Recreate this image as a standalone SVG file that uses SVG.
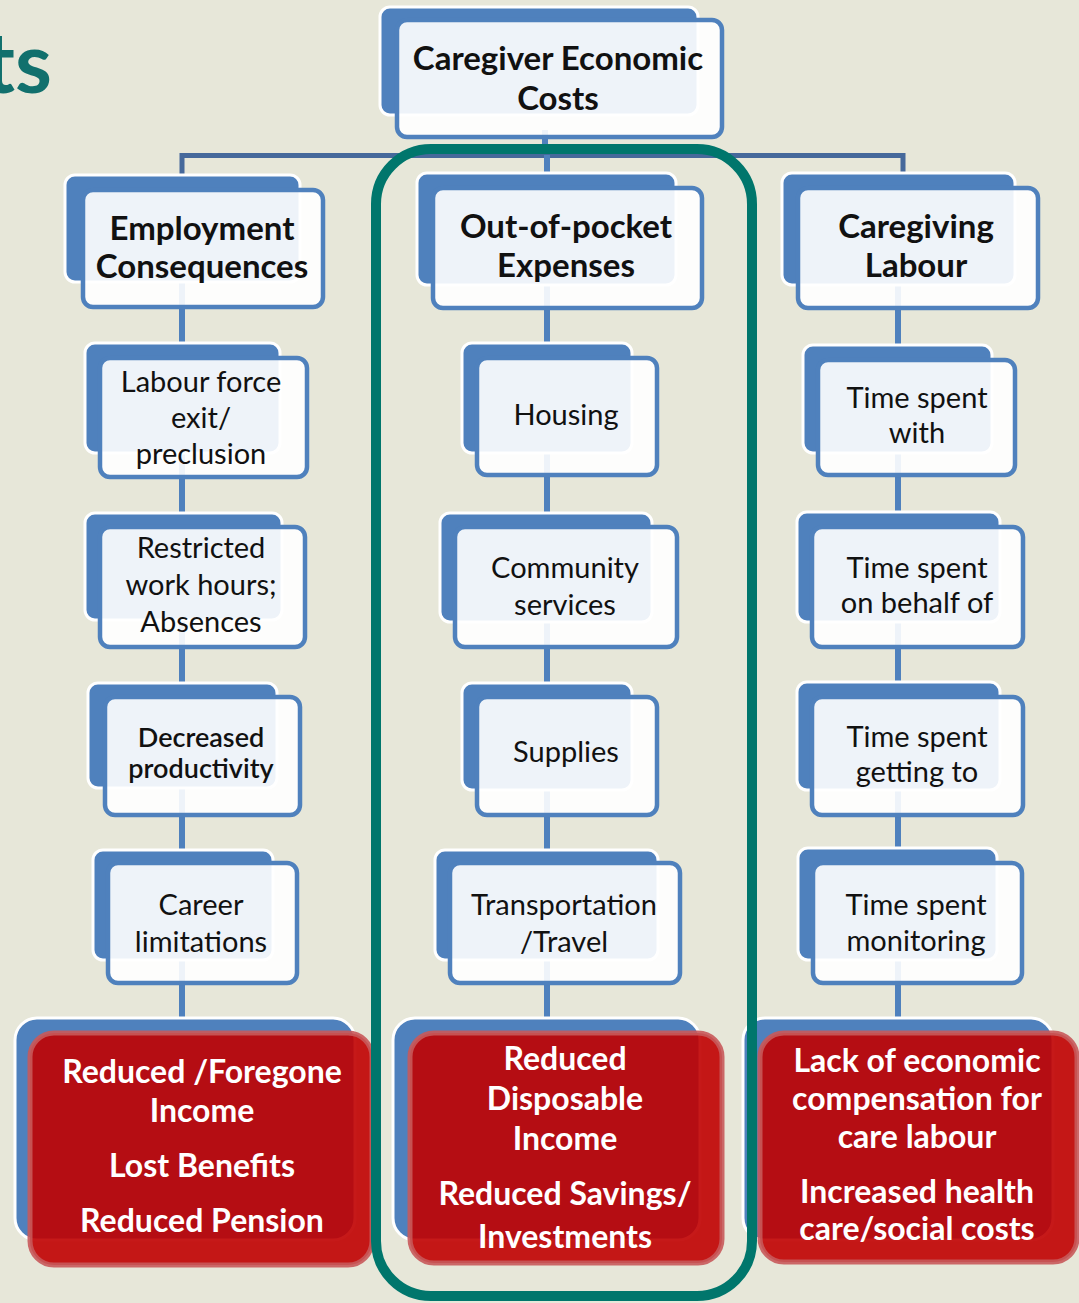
<svg xmlns="http://www.w3.org/2000/svg" width="1079" height="1303" viewBox="0 0 1079 1303">
<defs>
<style>
.bk{fill:#4F81BD;stroke:#fff;stroke-width:3}
.fr{fill:#fff;fill-opacity:0.9;stroke:#4F81BD;stroke-width:4.5}
.rd{fill:#C00000;fill-opacity:0.9;stroke:#C8595A;stroke-opacity:0.9;stroke-width:5}
.t{font-family:Lato,"Liberation Sans",sans-serif;text-anchor:middle;fill:#111}
.h{font-size:33px;font-weight:bold}
.s{font-size:29px}
.d{font-size:27px;font-weight:600}
.r{font-size:32px;font-weight:bold;fill:#fff}
.cv{stroke:#4F81BD;stroke-width:6;fill:none}
.ch{stroke:#46699B;stroke-width:5;fill:none}
</style>
</defs>
<rect width="1079" height="1303" fill="#E7E7D9"/>
<text x="52" y="93" style="font-family:Lato,'Liberation Sans',sans-serif;font-size:84px;font-weight:bold;fill:#11706D;text-anchor:end">ts</text>

<g id="connectors">
<line class="cv" x1="545" y1="130" x2="545" y2="157"/>
<polyline class="ch" points="182,175 182,155.5 903,155.5 903,175"/>
<line class="cv" x1="547" y1="155" x2="547" y2="180"/>
<line class="cv" x1="182" y1="280" x2="182" y2="1025"/>
<line class="cv" x1="547" y1="280" x2="547" y2="1025"/>
<line class="cv" x1="898" y1="280" x2="898" y2="1025"/>
</g>

<g id="n-top">
<rect class="bk" x="380" y="7" width="318" height="108" rx="10"/>
<rect class="fr" x="397" y="20" width="325" height="117" rx="10"/>
<text class="t h" x="558" y="70"><tspan x="558">Caregiver Economic</tspan><tspan x="558" y="110">Costs</tspan></text>
</g>

<g id="n-emp">
<rect class="bk" x="65" y="175" width="235" height="107" rx="10"/>
<rect class="fr" x="83" y="190" width="240" height="117" rx="10"/>
<text class="t h" x="202" y="240"><tspan x="202">Employment</tspan><tspan x="202" y="278">Consequences</tspan></text>
</g>
<g id="n-oop">
<rect class="bk" x="417" y="173" width="259" height="112" rx="10"/>
<rect class="fr" x="433" y="188" width="269" height="120" rx="10"/>
<text class="t h" x="566" y="238"><tspan x="566">Out-of-pocket</tspan><tspan x="566" y="277">Expenses</tspan></text>
</g>
<g id="n-cgl">
<rect class="bk" x="782" y="173" width="233" height="112" rx="10"/>
<rect class="fr" x="798" y="188" width="240" height="120" rx="10"/>
<text class="t h" x="916" y="238"><tspan x="916">Caregiving</tspan><tspan x="916" y="277">Labour</tspan></text>
</g>

<g id="n-labour">
<rect class="bk" x="85" y="343" width="195" height="110" rx="10"/>
<rect class="fr" x="100" y="358" width="207" height="119" rx="10"/>
<text class="t s" x="201" y="392"><tspan x="201">Labour force</tspan><tspan x="201" y="428">exit/</tspan><tspan x="201" y="464">preclusion</tspan></text>
</g>
<g id="n-restricted">
<rect class="bk" x="85" y="513" width="197" height="107" rx="10"/>
<rect class="fr" x="100" y="527" width="205" height="120" rx="10"/>
<text class="t s" x="201" y="558"><tspan x="201">Restricted</tspan><tspan x="201" y="595">work hours;</tspan><tspan x="201" y="632">Absences</tspan></text>
</g>
<g id="n-decreased">
<rect class="bk" x="88" y="683" width="189" height="105" rx="10"/>
<rect class="fr" x="105" y="697" width="195" height="118" rx="10"/>
<text class="t d" x="201" y="747"><tspan x="201">Decreased</tspan><tspan x="201" y="778">productivity</tspan></text>
</g>
<g id="n-career">
<rect class="bk" x="93" y="850" width="180" height="110" rx="10"/>
<rect class="fr" x="108" y="863" width="189" height="120" rx="10"/>
<text class="t s" x="201" y="915"><tspan x="201">Career</tspan><tspan x="201" y="952">limitations</tspan></text>
</g>

<g id="n-housing">
<rect class="bk" x="462" y="343" width="170" height="110" rx="10"/>
<rect class="fr" x="477" y="358" width="180" height="117" rx="10"/>
<text class="t s" x="566" y="425">Housing</text>
</g>
<g id="n-community">
<rect class="bk" x="440" y="513" width="212" height="109" rx="10"/>
<rect class="fr" x="455" y="527" width="222" height="120" rx="10"/>
<text class="t s" x="565" y="578"><tspan x="565">Community</tspan><tspan x="565" y="615">services</tspan></text>
</g>
<g id="n-supplies">
<rect class="bk" x="462" y="683" width="170" height="107" rx="10"/>
<rect class="fr" x="477" y="697" width="180" height="118" rx="10"/>
<text class="t s" x="566" y="762">Supplies</text>
</g>
<g id="n-transport">
<rect class="bk" x="435" y="850" width="223" height="110" rx="10"/>
<rect class="fr" x="450" y="863" width="230" height="120" rx="10"/>
<text class="t s" x="564" y="915"><tspan x="564">Transportation</tspan><tspan x="564" y="952">/Travel</tspan></text>
</g>

<g id="n-with">
<rect class="bk" x="803" y="345" width="189" height="108" rx="10"/>
<rect class="fr" x="818" y="360" width="197" height="115" rx="10"/>
<text class="t s" x="917" y="408"><tspan x="917">Time spent</tspan><tspan x="917" y="443">with</tspan></text>
</g>
<g id="n-behalf">
<rect class="bk" x="797" y="512" width="203" height="110" rx="10"/>
<rect class="fr" x="812" y="527" width="211" height="120" rx="10"/>
<text class="t s" x="917" y="578"><tspan x="917">Time spent</tspan><tspan x="917" y="613">on behalf of</tspan></text>
</g>
<g id="n-getting">
<rect class="bk" x="797" y="682" width="203" height="108" rx="10"/>
<rect class="fr" x="812" y="697" width="211" height="118" rx="10"/>
<text class="t s" x="917" y="747"><tspan x="917">Time spent</tspan><tspan x="917" y="782">getting to</tspan></text>
</g>
<g id="n-monitoring">
<rect class="bk" x="798" y="848" width="199" height="112" rx="10"/>
<rect class="fr" x="813" y="863" width="209" height="120" rx="10"/>
<text class="t s" x="916" y="915"><tspan x="916">Time spent</tspan><tspan x="916" y="951">monitoring</tspan></text>
</g>

<g id="n-red-left">
<rect class="bk" x="15" y="1018" width="340" height="222" rx="22"/>
<rect class="rd" x="30" y="1033" width="342" height="232" rx="24"/>
<text class="t r" x="202" y="1083"><tspan x="202">Reduced /Foregone</tspan><tspan x="202" y="1122">Income</tspan><tspan x="202" y="1177">Lost Benefits</tspan><tspan x="202" y="1232">Reduced Pension</tspan></text>
</g>
<g id="n-red-center">
<rect class="bk" x="393" y="1018" width="307" height="222" rx="22"/>
<rect class="rd" x="410" y="1033" width="312" height="230" rx="24"/>
<text class="t r" x="565" y="1070"><tspan x="565">Reduced</tspan><tspan x="565" y="1110">Disposable</tspan><tspan x="565" y="1150">Income</tspan><tspan x="565" y="1205">Reduced Savings/</tspan><tspan x="565" y="1248">Investments</tspan></text>
</g>
<g id="n-red-right">
<rect class="bk" x="743" y="1018" width="310" height="222" rx="22"/>
<rect class="rd" x="760" y="1033" width="317" height="229" rx="24"/>
<text class="t r" x="917" y="1072"><tspan x="917">Lack of economic</tspan><tspan x="917" y="1110">compensation for</tspan><tspan x="917" y="1148">care labour</tspan><tspan x="917" y="1203">Increased health</tspan><tspan x="917" y="1240">care/social costs</tspan></text>
</g>

<g id="highlight">
<rect x="376" y="149" width="376" height="1147" rx="55" fill="none" stroke="#00766C" stroke-width="10"/>
</g>
</svg>
